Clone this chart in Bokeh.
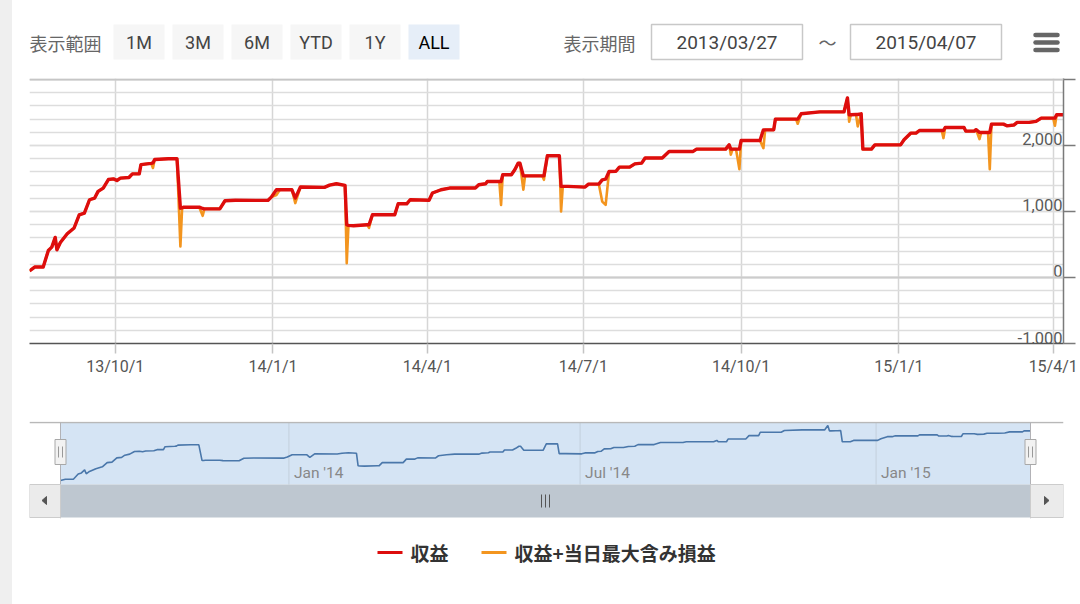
import pandas as pd
from bokeh.plotting import figure
from bokeh.models import (Range1d, FixedTicker, SingleIntervalTicker, Span,
                          ColumnDataSource, CustomJSTickFormatter)
from bokeh.layouts import column
from bokeh.core.properties import value
from bokeh.embed import file_html
from bokeh.resources import INLINE

# ---------------- data ----------------
dates = [
    "2013-08-12", "2013-08-15", "2013-08-20", "2013-08-23", "2013-08-25", "2013-08-27", "2013-08-28", "2013-08-30",
    "2013-09-03", "2013-09-07", "2013-09-10", "2013-09-13", "2013-09-16", "2013-09-19", "2013-09-21", "2013-09-24", "2013-09-27", "2013-09-30",
    "2013-10-02", "2013-10-04", "2013-10-09", "2013-10-11", "2013-10-15", "2013-10-16", "2013-10-22", "2013-10-23", "2013-10-24",
    "2013-11-01", "2013-11-06", "2013-11-08", "2013-11-09", "2013-11-10", "2013-11-19", "2013-11-21", "2013-11-22",
    "2013-12-01", "2013-12-04", "2013-12-10", "2013-12-29", "2013-12-31",
    "2014-01-03", "2014-01-05", "2014-01-12", "2014-01-14", "2014-01-17", "2014-01-31",
    "2014-02-03", "2014-02-07", "2014-02-12", "2014-02-13", "2014-02-14", "2014-02-17", "2014-02-25", "2014-02-26", "2014-02-28",
    "2014-03-13", "2014-03-15", "2014-03-20", "2014-03-22",
    "2014-04-02", "2014-04-04", "2014-04-09", "2014-04-14", "2014-04-29",
    "2014-05-01", "2014-05-05", "2014-05-06", "2014-05-13", "2014-05-14", "2014-05-15", "2014-05-20", "2014-05-22", "2014-05-24", "2014-05-25", "2014-05-27", "2014-05-28",
    "2014-06-07", "2014-06-08", "2014-06-10", "2014-06-17", "2014-06-18", "2014-06-19", "2014-06-22",
    "2014-07-02", "2014-07-04", "2014-07-10", "2014-07-12", "2014-07-14", "2014-07-16", "2014-07-20", "2014-07-22", "2014-07-28", "2014-07-31",
    "2014-08-04", "2014-08-06", "2014-08-16", "2014-08-20",
    "2014-09-03", "2014-09-05", "2014-09-22", "2014-09-24", "2014-09-25", "2014-09-26", "2014-09-28", "2014-09-30",
    "2014-10-01", "2014-10-12", "2014-10-14", "2014-10-15", "2014-10-20", "2014-10-21",
    "2014-11-02", "2014-11-03", "2014-11-05", "2014-11-16", "2014-11-30",
    "2014-12-02", "2014-12-03", "2014-12-04", "2014-12-07", "2014-12-08", "2014-12-10", "2014-12-11", "2014-12-16", "2014-12-18",
    "2015-01-02", "2015-01-04", "2015-01-08", "2015-01-11", "2015-01-13", "2015-01-26", "2015-01-27", "2015-01-28",
    "2015-02-08", "2015-02-09", "2015-02-14", "2015-02-15", "2015-02-17", "2015-02-18", "2015-02-22", "2015-02-23", "2015-02-24",
    "2015-03-03", "2015-03-05", "2015-03-09", "2015-03-11", "2015-03-18", "2015-03-22", "2015-03-25",
    "2015-04-01", "2015-04-02", "2015-04-03", "2015-04-07",
]
# 収益
profit = [
    100, 158, 160, 410, 460, 607, 420, 530,
    662, 750, 950, 975, 1178, 1203, 1305, 1355, 1484, 1494,
    1470, 1505, 1515, 1570, 1570, 1710, 1730, 1737, 1787,
    1800, 1800, 1050, 1055, 1065, 1065, 1045, 1040,
    1040, 1163, 1170, 1168, 1218,
    1330, 1330, 1330, 1203, 1370, 1365,
    1400, 1420, 1395, 800, 790, 785, 800, 800, 950,
    950, 1117, 1117, 1178,
    1170, 1280, 1330, 1355, 1355,
    1405, 1420, 1455, 1455, 1455, 1556, 1556, 1632, 1733, 1733, 1540, 1540,
    1540, 1540, 1845, 1845, 1380, 1380, 1380,
    1370, 1415, 1415, 1480, 1490, 1606, 1610, 1672, 1672, 1722,
    1733, 1810, 1810, 1910,
    1910, 1945, 1945, 2010, 1945, 1945, 1945, 1945,
    2075, 2075, 2237, 2237, 2237, 2400,
    2400, 2400, 2480, 2510, 2510,
    2720, 2465, 2465, 2470, 2470, 2480, 1945, 1945, 2010,
    2010, 2087, 2188, 2188, 2227, 2227, 2227, 2273,
    2273, 2218, 2218, 2240, 2200, 2197, 2197, 2197, 2324,
    2324, 2298, 2310, 2350, 2350, 2365, 2415,
    2415, 2415, 2465, 2465,
]
# 収益+当日最大含み損益: equal to 収益 except on these days
loss_dates = [
    "2013-10-23", "2013-11-08", "2013-11-21", "2014-01-03", "2014-01-14", "2014-02-13",
    "2014-02-26", "2014-05-14", "2014-05-27", "2014-06-08", "2014-06-18", "2014-07-12",
    "2014-07-14", "2014-09-25", "2014-09-30", "2014-10-14", "2014-11-03", "2014-12-03",
    "2014-12-08", "2015-01-27", "2015-02-17", "2015-02-23", "2015-04-02",
]
loss_values = [
    1660, 470, 935, 1250, 1127, 218,
    750, 1100, 1330, 1480, 1000, 1150,
    1100, 1860, 1640, 1960, 2330, 2360,
    2290, 2112, 2097, 1642, 2300,
]

x_ticks = ["2013-10-01", "2014-01-01", "2014-04-01", "2014-07-01",
           "2014-10-01", "2015-01-01", "2015-04-01"]
x_tick_labels = ["13/10/1", "14/1/1", "14/4/1", "14/7/1", "14/10/1", "15/1/1", "15/4/1"]
y_label_values = [-1000, 0, 1000, 2000]
y_labels = ["-1,000", "0", "1,000", "2,000"]
nav_ticks = ["2014-01-01", "2014-07-01", "2015-01-01"]
nav_tick_labels = ["Jan '14", "Jul '14", "Jan '15"]
range_buttons = ["1M", "3M", "6M", "YTD", "1Y", "ALL"]
range_label = "表示範囲"
period_label = "表示期間"
start_date_text = "2013/03/27"
end_date_text = "2015/04/07"
series_names = ["収益", "収益+当日最大含み損益"]

RED = "#dd0d0d"
ORANGE = "#f3951f"
NUM_FONT = value("Roboto")
JP_FONT = value("Noto Sans CJK JP")

# ---------------- derived ----------------
assert len(dates) == len(profit)
dt = pd.to_datetime(dates)
lmap = dict(zip(loss_dates, loss_values))
profit_max = [lmap.get(d, v) for d, v in zip(dates, profit)]
src = ColumnDataSource(dict(x=dt, red=profit, orange=profit_max))

W = 1080
BL, BR = 29, 17          # left / right border: plot frame spans x 29..1063


def base_fig(**kw):
    f = figure(toolbar_location=None, output_backend="svg", width=W,
               min_border_left=BL, min_border_right=BR, **kw)
    f.outline_line_color = None
    f.background_fill_color = "white"
    f.border_fill_color = None
    return f


# ---------------- top bar ----------------
top = base_fig(height=78, x_range=Range1d(29, 1063), y_range=Range1d(78, 0),
               x_axis_type=None, y_axis_type=None, min_border_top=0, min_border_bottom=0)
top.text(x=[29], y=[42], text=[range_label], text_font=JP_FONT, text_font_size="18px",
         text_color="#666666", text_align="left", text_baseline="middle")
btn_left = [113 + 59 * i for i in range(len(range_buttons))]
btn_fill = ["#e6eef8" if b == "ALL" else "#f6f6f6" for b in range_buttons]
btn_txt = ["#000000" if b == "ALL" else "#444444" for b in range_buttons]
top.quad(left=btn_left, right=[l + 51 for l in btn_left], top=24, bottom=59,
         fill_color=btn_fill, line_color=None)
top.text(x=[l + 25.5 for l in btn_left], y=[42] * len(btn_left), text=range_buttons,
         text_font=NUM_FONT, text_font_size="18px", text_color=btn_txt,
         text_align="center", text_baseline="middle")
top.text(x=[563], y=[42], text=[period_label], text_font=JP_FONT, text_font_size="18px",
         text_color="#666666", text_align="left", text_baseline="middle")
top.quad(left=[651, 850], right=[802, 1001], top=24, bottom=59, fill_color="white",
         line_color="#c8c8c8", line_width=1.5)
top.text(x=[726.5, 925.5], y=[42, 42], text=[start_date_text, end_date_text],
         text_font=NUM_FONT, text_font_size="19px", text_color="#444444",
         text_align="center", text_baseline="middle")
top.text(x=[827], y=[41], text=["～"], text_font=JP_FONT, text_font_size="18px",
         text_color="#666666", text_align="center", text_baseline="middle")
top.segment(x0=[1035] * 3, x1=[1057] * 3, y0=[34.5, 42, 49.5], y1=[34.5, 42, 49.5],
            line_color="#666666", line_width=4.5, line_cap="round")

# ---------------- main chart ----------------
main = base_fig(height=307, x_axis_type="datetime", y_axis_location="right",
                x_range=Range1d(dt[0], dt[-1]), y_range=Range1d(-1000, 3015),
                min_border_top=0, min_border_bottom=42)

tick_ms = [pd.Timestamp(s).value / 1e6 for s in x_ticks]
xax = main.xaxis[0]
xax.ticker = FixedTicker(ticks=tick_ms)
xax.major_label_overrides = {t: l for t, l in zip(tick_ms, x_tick_labels)}
xax.axis_line_color = "#555555"
xax.axis_line_width = 1.5
xax.major_tick_line_color = "#c4c4c4"
xax.major_tick_line_width = 1.5
xax.major_tick_out = 10
xax.major_tick_in = 0
xax.minor_tick_line_color = None
xax.major_label_text_font = "Roboto"
xax.major_label_text_font_size = "16px"
xax.major_label_text_color = "#555555"
xax.major_label_standoff = 3
main.xgrid.ticker = xax.ticker
main.xgrid.grid_line_color = "#d6d6d6"
main.xgrid.grid_line_width = 1.5

yax = main.yaxis[0]
yax.ticker = SingleIntervalTicker(interval=1000, num_minor_ticks=5)
yax.formatter = CustomJSTickFormatter(code="return ''")
yax.major_label_standoff = 0
yax.axis_line_color = "#7a7a7a"
yax.axis_line_width = 1.5
yax.major_tick_line_color = "#7a7a7a"
yax.major_tick_line_width = 1.5
yax.major_tick_out = 12
yax.major_tick_in = 0
yax.minor_tick_line_color = None
main.ygrid.ticker = yax.ticker
main.ygrid.grid_line_color = "#dddddd"
main.ygrid.grid_line_width = 1.5
main.ygrid.minor_grid_line_color = "#dddddd"
main.ygrid.minor_grid_line_width = 1.5

main.add_layout(Span(location=0, dimension="width", line_color="#cccccc", line_width=2.2))
main.add_layout(Span(location=3000, dimension="width", line_color="#c6c6c6", line_width=2.2))

main.line("x", "orange", source=src, line_color=ORANGE, line_width=2.6, line_join="round")
main.line("x", "red", source=src, line_color=RED, line_width=3.4, line_join="round")

main.text(x=[dt[-1]] * len(y_labels), y=y_label_values, text=y_labels,
          text_font=NUM_FONT, text_font_size="16.5px", text_color="#5a5a5a",
          text_align="right", text_baseline="bottom", x_offset=-1)

# ---------------- navigator ----------------
d0 = dt[0].value / 1e6
d1 = dt[-1].value / 1e6
span = d1 - d0
nav_x = Range1d(d0 - 31.0 / 970 * span, d1 + 33.0 / 970 * span)
vmin, vmax = min(profit), max(profit)
upp = (vmax - vmin) / 55.0
nav_y = Range1d(vmin - 38 * upp, vmax + 4 * upp)
nav = base_fig(height=140, x_range=nav_x, y_range=nav_y,
               x_axis_type=None, y_axis_type=None,
               min_border_top=36, min_border_bottom=7)
nav.extra_x_ranges = {"ui": Range1d(29, 1063)}
nav.extra_y_ranges = {"ui": Range1d(518, 421)}

# selected-range mask
nav.quad(left=[dt[0]], right=[dt[-1]], top=[422], bottom=[484], y_range_name="ui",
         fill_color="#d5e4f4", line_color=None)
nav_tick_dt = pd.to_datetime(nav_ticks)
nav.segment(x0=nav_tick_dt, x1=nav_tick_dt, y0=[422] * 3, y1=[484] * 3,
            y_range_name="ui", line_color="#c3cfdc", line_width=1)
nav.text(x=nav_tick_dt, y=[472] * 3, text=nav_tick_labels, y_range_name="ui",
         x_offset=5, text_font=NUM_FONT, text_font_size="15.5px", text_color="#888888",
         text_align="left", text_baseline="middle")
nav.line("x", "red", source=src, line_color="#4a77aa", line_width=1.6)
nav.segment(x0=[29], x1=[1063], y0=[422], y1=[422], x_range_name="ui",
            y_range_name="ui", line_color="#b8b8b8", line_width=1.5)
nav.segment(x0=[dt[0], dt[-1]], x1=[dt[0], dt[-1]], y0=[422, 422], y1=[518, 518],
            y_range_name="ui", line_color="#b2b2b6", line_width=1)
# scrollbar
nav.quad(left=[dt[0]], right=[dt[-1]], top=[484], bottom=[517], y_range_name="ui",
         fill_color="#bec7d0", line_color=None)
nav.quad(left=[29, 1030], right=[60, 1063], top=[484, 484], bottom=[517, 517],
         x_range_name="ui", y_range_name="ui", fill_color="#ebebeb",
         line_color="#cccccc", line_width=1)
nav.patches(xs=[[46, 46, 41.5], [1044, 1044, 1048.5]],
            ys=[[496, 504, 500], [496, 504, 500]], x_range_name="ui",
            y_range_name="ui", fill_color="#555555", line_color="#555555")
nav.segment(x0=[541, 545, 549], x1=[541, 545, 549], y0=[494] * 3, y1=[507] * 3,
            x_range_name="ui", y_range_name="ui", line_color="#555555", line_width=1)
# handles
nav.rect(x=[dt[0], dt[-1]], y=[451.5, 451.5], width=11, height=25,
         width_units="screen", height_units="screen", y_range_name="ui",
         fill_color="#f2f2f2", line_color="#a8a8a8", line_width=1)
nav.segment(x0=[58, 62, 1028, 1032], x1=[58, 62, 1028, 1032],
            y0=[446] * 4, y1=[457] * 4, x_range_name="ui", y_range_name="ui",
            line_color="#999999", line_width=1)

# ---------------- legend ----------------
leg = base_fig(height=79, x_range=Range1d(29, 1063), y_range=Range1d(604, 525),
               x_axis_type=None, y_axis_type=None, min_border_top=0, min_border_bottom=0)
leg.segment(x0=[377, 481], x1=[402, 506], y0=[552, 552], y1=[552, 552],
            line_color=[RED, ORANGE], line_width=3)
leg.text(x=[410, 514], y=[552, 552], text=series_names, text_font=JP_FONT,
         text_font_size="19px", text_font_style="bold", text_color="#333333",
         text_align="left", text_baseline="middle")

layout = column(top, main, nav, leg, spacing=0)
layout.styles = {"background": "linear-gradient(90deg, #efefef 0px, #efefef 12px, #ffffff 12px, #ffffff 100%)"}
open("out.html", "w").write(file_html(layout, INLINE))
